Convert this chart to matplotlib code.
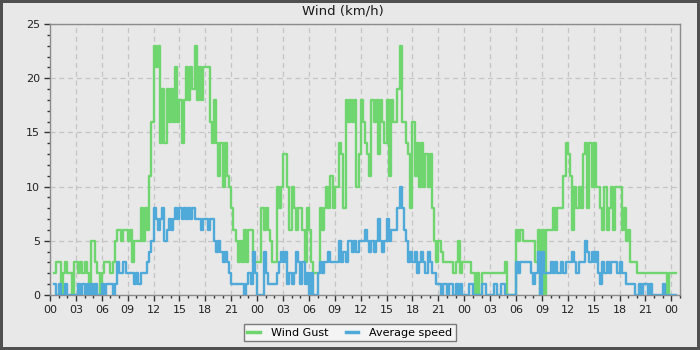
import numpy as np
import matplotlib
matplotlib.use("Agg")
import matplotlib.pyplot as plt
from matplotlib.ticker import MultipleLocator, FuncFormatter

# readings every 15 minutes, first one at 00:30 of day 1
start_hour = 0.5
step_hours = 0.25

# wind gust (km/h), four readings per hour
gust_day1 = [
    2, 3,
    3, 0, 2, 3,   2, 2, 0, 3,   3, 2, 3, 2,   3, 2, 0, 5,
    5, 3, 2, 0,   2, 3, 3, 3,   2, 3, 5, 6,   6, 5, 6, 6,
    5, 6, 3, 5,   5, 5, 8, 5,   8, 6, 11, 16, 23, 21, 23, 14,
    19, 14, 19, 16, 19, 16, 21, 16, 18, 14, 18, 21, 18, 21, 19, 23,
    18, 21, 18, 21, 21, 21, 16, 14, 18, 14, 11, 14, 10, 14, 11, 10,
    8, 6, 5, 3,   5, 3, 6, 3,   6, 6, 3, 3,
]
gust_day2 = [
    3, 3, 8, 6,   8, 6, 5, 3,   3, 10, 8, 10, 13, 13, 10, 6,
    10, 8, 6, 8,  8, 6, 3, 8,   6, 3, 2, 2,   2, 8, 6, 8,
    10, 8, 11, 8, 10, 10, 14, 13, 8, 18, 16, 18, 16, 18, 10, 13,
    18, 16, 14, 13, 11, 18, 16, 18, 13, 18, 16, 14, 18, 11, 18, 16,
    16, 19, 23, 16, 16, 14, 13, 8, 16, 11, 14, 10, 14, 10, 13, 10,
    13, 8, 5, 3,  5, 4, 3, 3,   3, 3, 3, 2,   3, 5, 2, 3,
]
gust_day3 = [
    3, 3, 3, 2,   2, 0, 2, 0,   2, 2, 2, 2,   2, 2, 2, 2,
    2, 2, 2, 3,   0, 0, 0, 0,   6, 5, 6, 5,   5, 5, 5, 5,
    5, 3, 6, 0,   6, 0, 6, 6,   6, 8, 6, 8,   8, 8, 11, 14,
    13, 11, 6, 10, 8, 10, 8, 13, 14, 8, 14, 10, 14, 10, 10, 8,
    6, 10, 6, 8,  10, 6, 10, 10, 10, 6, 8, 5, 6, 3, 3, 3,
    2, 2, 2, 2,   2, 2, 2, 2,   2, 2, 2, 2,   2, 2, 0, 2,
    2, 2, 2,
]

# average wind speed (km/h)
avg_day1 = [
    1, 0,
    1, 0, 0, 1,   0, 0, 0, 0,   0, 1, 0, 1,   0, 1, 0, 1,
    0, 1, 0, 0,   1, 0, 1, 1,   1, 0, 1, 3,   2, 2, 3, 2,
    2, 2, 2, 1,   2, 1, 2, 2,   2, 3, 4, 5,   8, 7, 6, 7,
    8, 5, 6, 7,   6, 7, 8, 7,   8, 7, 8, 7,   8, 7, 8, 7,
    7, 7, 6, 7,   7, 6, 7, 7,   5, 4, 5, 4,   3, 4, 3, 2,
    1, 1, 1, 1,   1, 1, 0, 1,   2, 1, 4, 2,
]
avg_day2 = [
    0, 0, 0, 4,   2, 1, 1, 1,   1, 2, 3, 4,   3, 4, 1, 2,
    1, 2, 4, 3,   1, 3, 1, 2,   0, 2, 0, 0,   2, 3, 2, 3,
    3, 4, 3, 3,   3, 3, 5, 3,   4, 3, 5, 5,   4, 5, 4, 5,
    5, 5, 6, 5,   4, 5, 4, 5,   7, 5, 4, 5,   7, 5, 6, 6,
    6, 8, 10, 8,  6, 5, 3, 4,   3, 4, 2, 3,   4, 3, 2, 4,
    3, 2, 2, 1,   1, 0, 1, 1,   0, 1, 1, 0,   1, 0, 1, 0,
]
avg_day3 = [
    0, 0, 1, 1,   0, 0, 0, 0,   1, 1, 0, 0,   0, 0, 1, 0,
    0, 1, 1, 0,   0, 0, 0, 0,   3, 2, 3, 3,   3, 3, 3, 2,
    1, 2, 4, 0,   4, 2, 2, 2,   3, 2, 3, 2,   2, 3, 2, 3,
    3, 3, 4, 3,   2, 3, 3, 3,   5, 4, 3, 4,   3, 4, 2, 1,
    3, 2, 3, 2,   3, 3, 3, 2,   3, 2, 2, 1,   1, 1, 1, 0,
    0, 1, 0, 1,   1, 0, 1, 0,   0, 0, 0, 0,   1, 0, 0, 0,
    0, 0, 0,
]

gust = np.array(gust_day1 + gust_day2 + gust_day3, dtype=float)
avg = np.array(avg_day1 + avg_day2 + avg_day3, dtype=float)
hours = start_hour + step_hours * np.arange(len(gust))

bg = "#e8e8e8"
fig = plt.figure(figsize=(7, 3.5), dpi=100, facecolor=bg,
                 edgecolor="#505050", linewidth=3)
ax = fig.add_axes([50 / 700, 55 / 350, 630 / 700, 271 / 350])
ax.set_facecolor(bg)

ax.plot(hours, gust, drawstyle="steps-post", color="#6fd66f", lw=1.7,
        label="Wind Gust", zorder=3)
ax.plot(hours, avg, drawstyle="steps-post", color="#4fa9d9", lw=1.7,
        label="Average speed", zorder=4)

ax.set_xlim(0, 73)
ax.set_ylim(0, 25)
ax.xaxis.set_major_locator(MultipleLocator(3))
ax.xaxis.set_minor_locator(MultipleLocator(1))
ax.yaxis.set_major_locator(MultipleLocator(5))
ax.yaxis.set_minor_locator(MultipleLocator(1))
ax.xaxis.set_major_formatter(FuncFormatter(lambda v, p: "%02d" % (int(round(v)) % 24)))

ax.grid(True, which="major", color="#c4c4c4", linestyle=(0, (4, 3)), lw=0.9)
ax.set_axisbelow(True)
for s in ax.spines.values():
    s.set_color("#8c8c8c")
    s.set_linewidth(1)
ax.tick_params(which="major", length=4, width=1, color="#333333",
               labelsize=8, labelcolor="#222222", pad=3)
ax.tick_params(which="minor", length=2, width=1, color="#333333")

fig.text(0.49, 1 - 11 / 350, "Wind (km/h)", ha="center", va="center",
         fontsize=9.5, color="#1a1a1a")

leg = fig.legend(loc="lower center", bbox_to_anchor=(0.5, 3 / 350), ncol=2,
                 fontsize=8, frameon=True, fancybox=False, handlelength=1.1,
                 handletextpad=1.0, columnspacing=1.6, borderpad=0.35)
leg.get_frame().set_facecolor("#f4f4f4")
leg.get_frame().set_edgecolor("#7a7a7a")
leg.get_frame().set_alpha(1)
for line in leg.get_lines():
    line.set_linewidth(2.5)

fig.savefig("out.png", dpi=100, facecolor=bg)
